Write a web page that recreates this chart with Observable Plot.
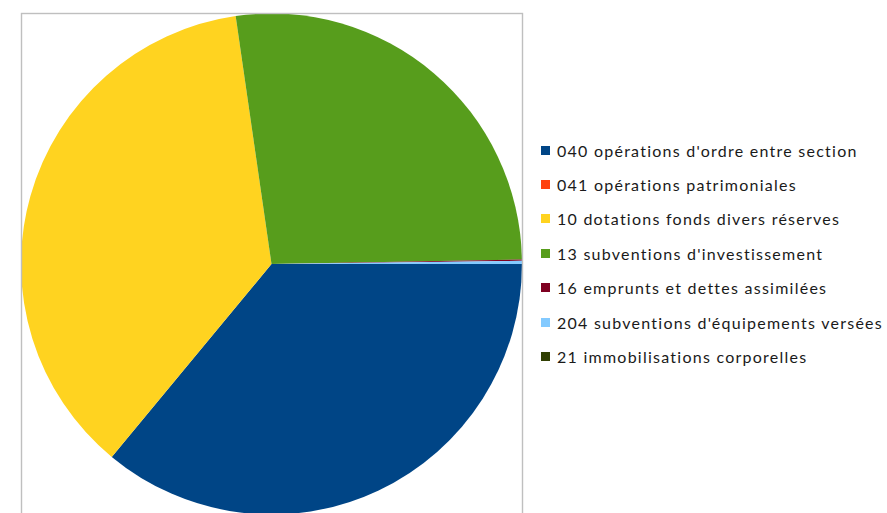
<!DOCTYPE html>
<html>
<head>
<meta charset="utf-8">
<script src="https://cdn.jsdelivr.net/npm/d3@7"></script>
<script src="https://cdn.jsdelivr.net/npm/@observablehq/plot@0.6"></script>
<style>
  html, body { margin: 0; padding: 0; background: #fff; overflow: hidden; }
  #wrap { position: relative; width: 887px; height: 513px; }
  #chart { position: absolute; left: 0; top: 0; }
  #legend { position: absolute; left: 541px; top: 133px; font-family: Lato, "Noto Sans", sans-serif; font-size: 16px; letter-spacing: 1.25px; font-variant-ligatures: none; font-feature-settings: "liga" 0; color: #1a1a1a; }
  .row { display: flex; align-items: center; height: 34.4px; white-space: nowrap; }
  .sw { width: 9px; height: 9px; margin-right: 7px; flex: none; }
</style>
</head>
<body>
<div id="wrap"><div id="chart"></div><div id="legend"></div></div>
<script>
const categories = [
  "040 opérations d'ordre entre section",
  "041 opérations patrimoniales",
  "10 dotations fonds divers réserves",
  "13 subventions d'investissement",
  "16 emprunts et dettes assimilées",
  "204 subventions d'équipements versées",
  "21 immobilisations corporelles"
];
const values = [36.0, 0.0, 36.7, 27.0, 0.08, 0.2, 0.0];
const colors = ["#004586", "#ff420e", "#ffd320", "#579d1c", "#7e0021", "#83caff", "#314004"];

const data = categories.map((c, i) => ({category: c, value: values[i]}));

function pieMark(index, scales) {
  const cx = scales.x(0), cy = scales.y(0);
  const r = Math.abs(scales.x(1) - scales.x(0));
  const arcs = d3.pie().sort(null).value(d => d.value)
    .startAngle(Math.PI / 2).endAngle(Math.PI / 2 + 2 * Math.PI)(data);
  const arc = d3.arc().innerRadius(0).outerRadius(r);
  const g = d3.create("svg:g").attr("transform", `translate(${cx},${cy})`);
  g.selectAll("path").data(arcs.filter(a => a.data.value > 0)).join("path")
    .attr("d", arc)
    .attr("fill", a => scales.color(a.data.category));
  return g.node();
}

const plot = Plot.plot({
  width: 530,
  height: 513,
  marginLeft: 21,
  marginRight: 8,
  marginTop: 13,
  marginBottom: -2,
  x: {domain: [-1, 1], axis: null},
  y: {domain: [-1, 1], axis: null},
  color: {domain: categories, range: colors},
  style: {background: "transparent", overflow: "hidden"},
  marks: [
    Plot.dot(data, {x: () => 0, y: () => 0, fill: "category", r: 0}),
    pieMark,
    Plot.frame({stroke: "#bfbfbf", strokeWidth: 1.4})
  ]
});
document.getElementById("chart").appendChild(plot);

const legend = d3.select("#legend");
const rows = legend.selectAll("div.row").data(categories).join("div").attr("class", "row");
rows.append("div").attr("class", "sw").style("background", (d, i) => colors[i]);
rows.append("span").text(d => d);
</script>
</body>
</html>
